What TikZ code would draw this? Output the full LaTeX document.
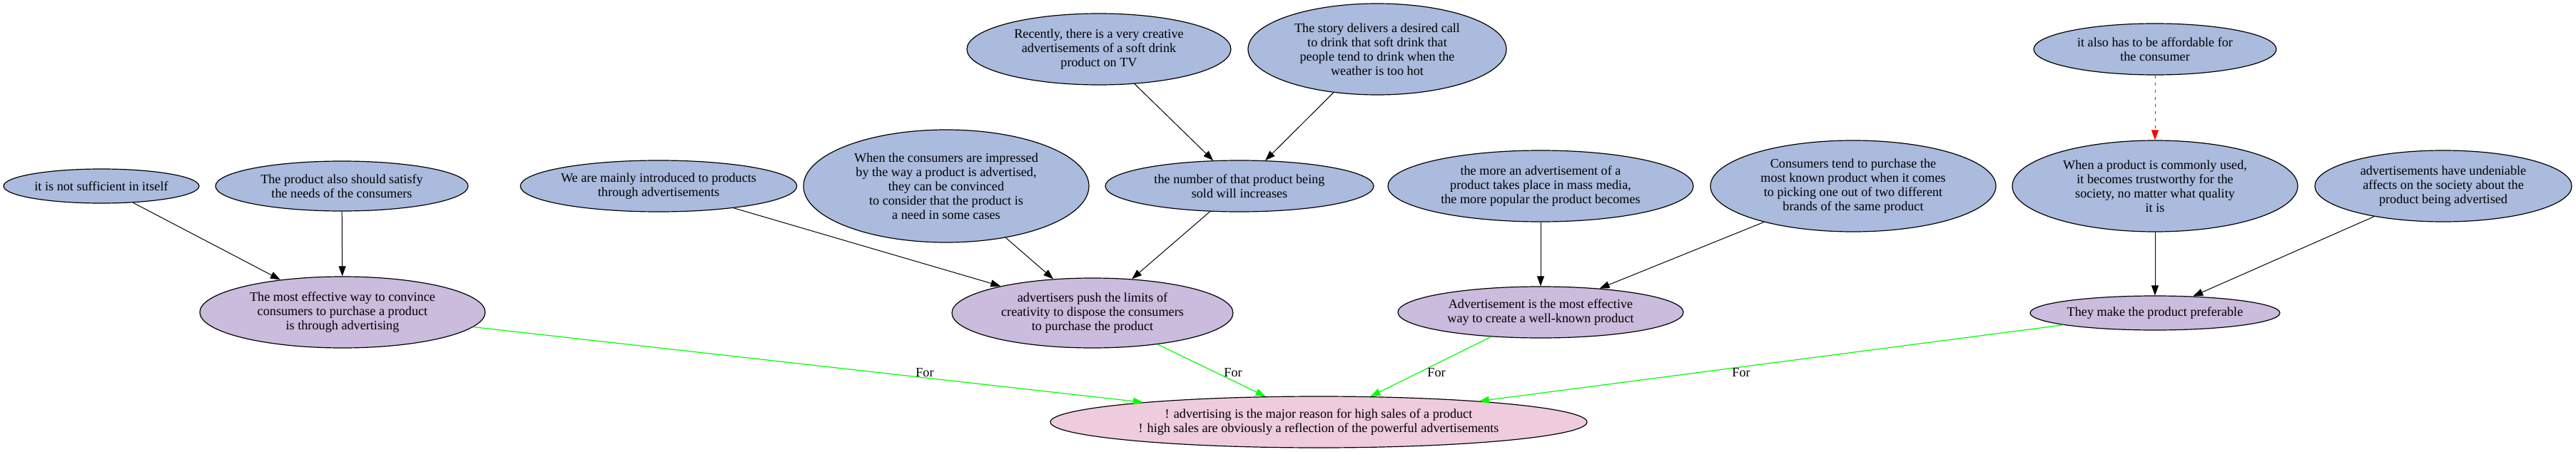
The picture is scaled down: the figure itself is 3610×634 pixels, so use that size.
\documentclass[tikz,border=0pt]{standalone}
\usepackage{fontspec}
\setmainfont{Liberation Serif}
\usetikzlibrary{shapes.geometric,arrows.meta}
\definecolor{nblue}{RGB}{170,187,221}
\definecolor{npurple}{RGB}{203,187,221}
\definecolor{npink}{RGB}{238,204,221}
\definecolor{egreen}{RGB}{0,255,0}
\begin{document}
\begin{tikzpicture}[x=1pt,y=-1pt,
  base/.style={ellipse, draw=black, line width=1.2pt, inner sep=0pt, align=center, font=\fontsize{18.2}{20}\selectfont},
  premise/.style={base, fill=nblue},
  claim/.style={base, fill=npurple},
  thesis/.style={base, fill=npink},
  sz/.style 2 args={minimum width=#1, minimum height=#2},
  link/.style={draw=black, line width=1pt, -{Triangle[length=14pt,width=10pt]}},
  forlink/.style={link, draw=egreen, line width=1.2pt},
  attack/.style={link, draw=red, dash pattern=on 4pt off 6pt},
  lbl/.style={font=\fontsize{18.2}{20}\selectfont, inner sep=0pt}
]
\useasboundingbox (0,0) rectangle (3610,634);
\node[premise, sz={274pt}{48pt}] (a1) at (142,261) {it is not sufficient in itself};
\node[premise, sz={354pt}{70pt}] (a2) at (479,261) {The product also should satisfy\\the needs of the consumers};
\node[claim, sz={400pt}{100pt}] (c1) at (480,438) {The most effective way to convince\\consumers to purchase a product\\is through advertising};
\node[premise, sz={356pt}{72pt}] (a3) at (923,261) {We are mainly introduced to products\\through advertisements};
\node[premise, sz={400pt}{158pt}] (a4) at (1326,261) {When the consumers are impressed\\by the way a product is advertised,\\they can be convinced\\to consider that the product is\\a need in some cases};
\node[premise, sz={370pt}{100pt}] (a5) at (1540,69) {Recently, there is a very creative\\advertisements of a soft drink\\product on TV};
\node[premise, sz={362pt}{128pt}] (a6) at (1930,69) {The story delivers a desired call\\to drink that soft drink that\\people tend to drink when the\\weather is too hot};
\node[premise, sz={376pt}{72pt}] (a7) at (1737,261) {the number of that product being\\sold will increases};
\node[claim, sz={394pt}{98pt}] (c2) at (1531,439) {advertisers push the limits of\\creativity to dispose the consumers\\to purchase the product};
\node[premise, sz={428pt}{100pt}] (a8) at (2159,261) {the more an advertisement of a\\product takes place in mass media,\\the more popular the product becomes};
\node[premise, sz={400pt}{128pt}] (a9) at (2597,261) {Consumers tend to purchase the\\most known product when it comes\\to picking one out of two different\\brands of the same product};
\node[claim, sz={400pt}{72pt}] (c3) at (2159,438) {Advertisement is the most effective\\way to create a well-known product};
\node[premise, sz={340pt}{72pt}] (a10) at (3020,69) {it also has to be affordable for\\the consumer};
\node[premise, sz={400pt}{128pt}] (a11) at (3020,261) {When a product is commonly used,\\it becomes trustworthy for the\\society, no matter what quality\\it is};
\node[premise, sz={360pt}{100pt}] (a12) at (3424,261) {advertisements have undeniable\\affects on the society about the\\product being advertised};
\node[claim, sz={350pt}{48pt}] (c4) at (3020,439) {They make the product preferable};
\node[thesis, sz={752pt}{72pt}] (t) at (1848,592) {! advertising is the major reason for high sales of a product\\! high sales are obviously a reflection of the powerful advertisements};

\draw[link] (a1) -- (c1);
\draw[link] (a2) -- (c1);
\draw[link] (a3) -- (c2);
\draw[link] (a4) -- (c2);
\draw[link] (a7) -- (c2);
\draw[link] (a5) -- (a7);
\draw[link] (a6) -- (a7);
\draw[link] (a8) -- (c3);
\draw[link] (a9) -- (c3);
\draw[attack] (a10) -- (a11);
\draw[link] (a11) -- (c4);
\draw[link] (a12) -- (c4);
\draw[forlink] (c1) -- (t);
\draw[forlink] (c2) -- (t);
\draw[forlink] (c3) -- (t);
\draw[forlink] (c4) -- (t);
\node[lbl] (l1) at (1296,523) {For};
\node[lbl] (l2) at (1728,523) {For};
\node[lbl] (l3) at (2013,523) {For};
\node[lbl] (l4) at (2440,523) {For};
\end{tikzpicture}
\end{document}
